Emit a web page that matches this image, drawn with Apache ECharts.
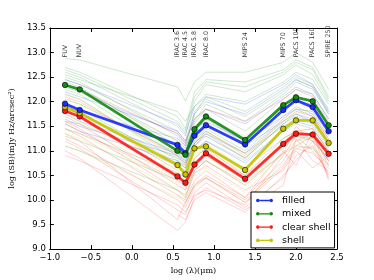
<!DOCTYPE html>
<html><head><meta charset="utf-8">
<script src="https://cdn.jsdelivr.net/npm/echarts@6/dist/echarts.min.js"></script>
<style>html,body{margin:0;padding:0;background:#fff}#c{width:374px;height:280px}</style>
</head><body><div id="c"></div>
<script>
// Band names and log wavelengths (micron)
var bands = ['FUV','NUV','IRAC 3.6','IRAC 4.5','IRAC 5.8','IRAC 8.0','MIPS 24','MIPS 70','PACS 100','PACS 160','SPIRE 250'];
var logLam = [-0.815,-0.636,0.556,0.653,0.763,0.903,1.380,1.845,2.000,2.204,2.398];
var bandLabelY = 12.88;

// Mean SEDs
var filledMean = [11.96,11.83,11.12,10.95,11.31,11.52,11.13,11.83,12.03,11.89,11.40];
var mixedMean  = [12.34,12.25,11.00,10.92,11.44,11.70,11.22,11.93,12.09,12.01,11.52];
var clearMean  = [11.81,11.70,10.48,10.35,10.72,10.95,10.43,11.14,11.35,11.33,10.94];
var shellMean  = [11.89,11.77,10.71,10.52,11.05,11.09,10.61,11.45,11.62,11.62,11.16];

// Individual SEDs (thin lines)
var mixedInd = [
 [12.88,12.85,12.30,12.02,12.40,12.60,12.60,12.80,13.00,12.80,12.25],
 [12.70,12.60,11.70,11.45,12.20,12.45,12.40,12.65,12.85,12.70,12.10],
 [12.60,12.50,11.50,11.30,12.00,12.35,12.20,12.55,12.75,12.55,12.00],
 [12.50,12.40,11.30,11.10,11.75,12.10,11.80,12.30,12.50,12.35,11.85],
 [12.40,12.30,11.10,10.95,11.55,11.85,11.40,12.05,12.25,12.15,11.65],
 [12.25,12.15,10.90,10.80,11.35,11.65,11.15,11.85,12.00,11.95,11.50],
 [12.15,12.05,10.80,10.70,11.20,11.45,11.00,11.70,11.85,11.80,11.35],
 [12.05,11.95,10.95,10.85,11.30,11.55,11.10,11.60,11.75,11.65,11.20],
 [11.60,11.55,10.70,10.60,11.00,11.20,10.80,11.40,11.55,11.45,11.00],
 [11.30,11.20,10.40,10.30,10.75,10.95,10.50,11.10,11.30,11.20,10.80],
 [12.55,12.45,11.80,11.60,11.90,12.15,12.00,12.40,12.60,12.45,11.95],
 [11.10,11.00,10.20,10.10,10.60,10.80,10.35,10.95,11.10,11.05,10.70],
 [12.35,12.25,11.20,11.05,11.60,11.95,11.60,12.15,12.40,12.25,11.75],
 [11.85,11.75,10.85,10.75,11.15,11.40,10.95,11.50,11.65,11.55,11.10],
 [12.65,12.55,11.60,11.40,12.10,12.40,12.30,12.60,12.80,12.65,12.05],
 [12.45,12.35,11.40,11.20,11.80,12.05,11.70,12.20,12.45,12.30,11.80],
 [11.95,11.85,10.75,10.65,11.10,11.35,10.85,11.55,11.70,11.60,11.15],
 [11.45,11.35,10.55,10.45,10.85,11.05,10.65,11.25,11.40,11.30,10.90]
];
var filledInd = [
 [12.45,12.35,11.55,11.35,11.90,12.10,11.95,12.35,12.55,12.35,11.80],
 [12.20,12.10,11.40,11.20,11.65,11.85,11.55,12.10,12.30,12.15,11.65],
 [11.95,11.85,11.10,10.95,11.35,11.55,11.10,11.85,12.05,11.90,11.40],
 [11.75,11.60,10.95,10.80,11.15,11.35,10.95,11.65,11.85,11.70,11.25],
 [11.55,11.40,10.80,10.65,11.00,11.20,10.75,11.40,11.60,11.50,11.05],
 [11.90,11.80,11.25,11.10,11.45,11.60,11.20,11.70,11.90,11.75,11.30],
 [12.30,12.20,11.35,11.15,11.75,12.00,11.75,12.25,12.45,12.30,11.75],
 [11.65,11.50,10.90,10.75,11.10,11.30,10.85,11.55,11.75,11.60,11.15]
];
var clearInd = [
 [12.35,12.25,11.35,11.15,11.65,11.85,11.60,12.05,12.25,12.10,11.60],
 [12.10,12.00,10.90,10.70,11.15,11.40,10.90,11.60,11.80,11.70,11.25],
 [11.90,11.80,10.60,10.45,10.85,11.05,10.50,11.25,11.40,11.45,11.00],
 [11.70,11.55,10.30,10.20,10.60,10.80,10.30,10.95,11.50,11.20,10.85],
 [11.45,11.30,10.10,10.00,10.40,10.60,10.05,10.80,11.20,11.35,10.70],
 [11.20,11.05,9.80,9.70,10.15,10.35,9.85,10.45,10.90,11.10,10.50],
 [11.00,10.85,9.38,9.55,10.05,10.25,9.80,10.30,11.25,10.80,10.60],
 [11.35,11.20,9.60,9.95,10.30,10.50,10.05,11.00,10.70,11.40,10.40],
 [11.60,11.45,10.20,10.05,10.55,10.70,10.20,10.60,11.00,10.65,10.90],
 [10.90,10.80,9.90,9.75,10.10,10.20,9.90,10.90,11.30,11.00,10.55],
 [null,null,10.10,9.95,10.30,10.45,10.00,10.70,11.10,11.30,10.80],
 [11.25,11.10,10.00,9.85,10.25,10.45,9.95,10.65,11.05,10.95,10.65],
 [11.55,11.40,10.40,10.25,10.70,10.90,10.40,11.10,11.30,11.25,10.80],
 [null,null,9.70,9.60,10.00,10.15,9.75,10.50,10.80,11.20,10.45]
];
var shellInd = [
 [12.30,12.20,11.20,11.00,11.50,11.65,11.30,11.85,12.00,11.95,11.45],
 [12.05,11.95,10.95,10.75,11.25,11.40,10.95,11.60,11.80,11.75,11.30],
 [11.85,11.75,10.70,10.50,11.05,11.15,10.65,11.40,11.60,11.60,11.15],
 [11.60,11.50,10.45,10.30,10.80,10.90,10.40,11.20,11.40,11.45,11.00],
 [11.35,11.25,10.20,10.05,10.55,10.65,10.15,10.95,11.20,11.25,10.85],
 [11.10,11.00,10.05,9.90,10.35,10.45,9.95,10.75,11.05,11.10,10.70],
 [11.75,11.60,10.55,10.40,10.95,11.00,10.55,11.10,11.35,11.30,10.95],
 [12.15,12.05,10.85,10.65,11.20,11.30,10.85,11.65,11.85,11.80,11.35],
 [11.45,11.35,10.35,10.20,10.70,10.80,10.30,11.05,11.30,11.35,10.90]
];

var colors = {filled:'#1a2cff', mixed:'#118a11', clear:'#ff1a1a', shell:'#c4c400'};

function pts(vals){ return vals.map(function(v,i){ return [logLam[i], v]; }); }

var series = [];
function addThin(list, col){
  list.forEach(function(v){
    series.push({type:'line', data:pts(v), symbol:'none', silent:true, z:1,
      lineStyle:{color:col, width:0.8, opacity:0.25}, connectNulls:false, animation:false});
  });
}
addThin(mixedInd, colors.mixed);
addThin(filledInd, colors.filled);
addThin(clearInd, colors.clear);
addThin(shellInd, colors.shell);

function addMean(name, vals, col){
  series.push({type:'line', name:name, data:pts(vals), z:5, symbol:'circle', symbolSize:5.5,
    lineStyle:{color:col, width:2.8, opacity:0.9},
    itemStyle:{color:col, borderColor:'#000', borderWidth:0.6},
    animation:false});
}
addMean('clear shell', clearMean, colors.clear);
addMean('shell', shellMean, colors.shell);
addMean('filled', filledMean, colors.filled);
addMean('mixed', mixedMean, colors.mixed);

series.push({type:'scatter', symbolSize:0, silent:true, z:6, animation:false,
  data: bands.map(function(b,i){ return [logLam[i], bandLabelY, b]; }),
  label:{show:true, position:'inside', rotate:90, align:'left', verticalAlign:'middle',
    formatter:function(p){return p.data[2];}, fontSize:6.3, color:'#000', fontFamily:'DejaVu Sans', offset:[1,0]}
});

function fmt(v){ return v.toFixed(1).replace('-','\u2212'); }
var icon = 'path://M1,5a4,4 0 1,0 8,0a4,4 0 1,0 -8,0zM31,5a4,4 0 1,0 8,0a4,4 0 1,0 -8,0zM9,3.6h22v2.8h-22z';
function legItem(name, col){
  return {name:name, icon:icon, itemStyle:{color:col, borderColor:'#000', borderWidth:0, opacity:1}, lineStyle:{width:0, opacity:0}};
}

var axLine = {show:true, onZero:false, lineStyle:{color:'#000', width:1}};
var axTick = {show:true, inside:true, length:4, lineStyle:{color:'#000'}};

var chart = echarts.init(document.getElementById('c'), null, {renderer:'canvas'});
chart.setOption({
  animation:false,
  grid:{left:47, right:37, top:28, bottom:29},
  xAxis:[
   {type:'value', min:-1, max:2.5, interval:0.5, axisLine:axLine, axisTick:axTick,
    splitLine:{show:false},
    axisLabel:{formatter:fmt, fontSize:8.5, color:'#000', fontFamily:'DejaVu Sans', margin:4},
    name:'log (\u03bb)(\u03bcm)', nameLocation:'middle', nameGap:16,
    nameTextStyle:{fontFamily:'DejaVu Serif', fontSize:8, color:'#000'}},
   {type:'value', min:-1, max:2.5, interval:0.5, position:'top', axisLine:axLine, axisTick:axTick,
    splitLine:{show:false}, axisLabel:{show:false}}
  ],
  yAxis:[
   {type:'value', min:9, max:13.5, interval:0.5, axisLine:axLine, axisTick:axTick,
    splitLine:{show:false},
    axisLabel:{formatter:fmt, fontSize:8.5, color:'#000', fontFamily:'DejaVu Sans', margin:4},
    name:'log (SB)(mJy Hz/arcsec\u00b2)', nameLocation:'middle', nameGap:28,
    nameTextStyle:{fontFamily:'DejaVu Serif', fontSize:8, color:'#000'}},
   {type:'value', min:9, max:13.5, interval:0.5, position:'right', axisLine:axLine, axisTick:axTick,
    splitLine:{show:false}, axisLabel:{show:false}}
  ],
  legend:{data:[legItem('filled',colors.filled), legItem('mixed',colors.mixed), legItem('clear shell',colors.clear), legItem('shell',colors.shell)],
    orient:'vertical', left:251, top:192,
    padding:[3,4,2,5], itemGap:2.3, itemWidth:17, itemHeight:6,
    borderColor:'#000', borderWidth:1, backgroundColor:'#fff',
    textStyle:{fontSize:9.5, color:'#000', fontFamily:'DejaVu Sans', lineHeight:11, padding:[0,0,0,4]}},
  series:series
});
</script></body></html>
